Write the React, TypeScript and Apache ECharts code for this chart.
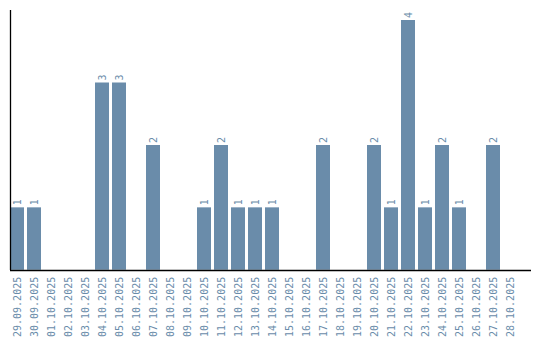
import React, { useEffect, useRef } from "react";
import * as echarts from "echarts";

const dates: string[] = [
  "29.09.2025", "30.09.2025", "01.10.2025", "02.10.2025", "03.10.2025",
  "04.10.2025", "05.10.2025", "06.10.2025", "07.10.2025", "08.10.2025",
  "09.10.2025", "10.10.2025", "11.10.2025", "12.10.2025", "13.10.2025",
  "14.10.2025", "15.10.2025", "16.10.2025", "17.10.2025", "18.10.2025",
  "19.10.2025", "20.10.2025", "21.10.2025", "22.10.2025", "23.10.2025",
  "24.10.2025", "25.10.2025", "26.10.2025", "27.10.2025", "28.10.2025",
];

const counts: number[] = [
  1, 1, 0, 0, 0, 3, 3, 0, 2, 0,
  0, 1, 2, 1, 1, 1, 0, 0, 2, 0,
  0, 2, 1, 4, 1, 2, 1, 0, 2, 0,
];

const BAR_COLOR = "#6a8caa";
const FONT = "'DejaVu Sans Mono', 'Liberation Mono', monospace";

export default function App() {
  const ref = useRef<HTMLDivElement>(null);
  useEffect(() => {
    if (!ref.current) return;
    const chart = echarts.init(ref.current, undefined, { renderer: "svg" });
    chart.setOption({
      animation: false,
      backgroundColor: "#ffffff",
      grid: { left: 8.5, top: 10, width: 510, height: 260 },
      xAxis: {
        type: "category",
        data: dates,
        axisLine: { show: false },
        axisTick: { show: false },
        axisLabel: {
          rotate: 90,
          interval: 0,
          margin: 7,
          color: BAR_COLOR,
          fontSize: 10,
          fontFamily: FONT,
        },
      },
      yAxis: {
        type: "value",
        min: 0,
        max: 4.16,
        axisLine: { show: false },
        axisTick: { show: false },
        axisLabel: { show: false },
        splitLine: { show: false },
      },
      graphic: [
        {
          type: "line",
          shape: { x1: 10.5, y1: 10, x2: 10.5, y2: 270 },
          style: { stroke: "#000", lineWidth: 1.3 },
          z: 10,
        },
        {
          type: "line",
          shape: { x1: 10, y1: 270.5, x2: 531, y2: 270.5 },
          style: { stroke: "#000", lineWidth: 1.3 },
          z: 10,
        },
      ],
      series: [
        {
          type: "bar",
          data: counts,
          barWidth: 14,
          itemStyle: { color: BAR_COLOR },
          label: {
            show: true,
            position: "top",
            rotate: 90,
            align: "left",
            verticalAlign: "middle",
            distance: 2,
            color: BAR_COLOR,
            fontSize: 10,
            fontFamily: FONT,
            formatter: (p: any) => (p.value ? String(p.value) : ""),
          },
        },
      ],
    });
    return () => chart.dispose();
  }, []);
  return (
    <div
      ref={ref}
      style={{ position: "absolute", left: 0, top: 0, width: 540, height: 340 }}
    />
  );
}
